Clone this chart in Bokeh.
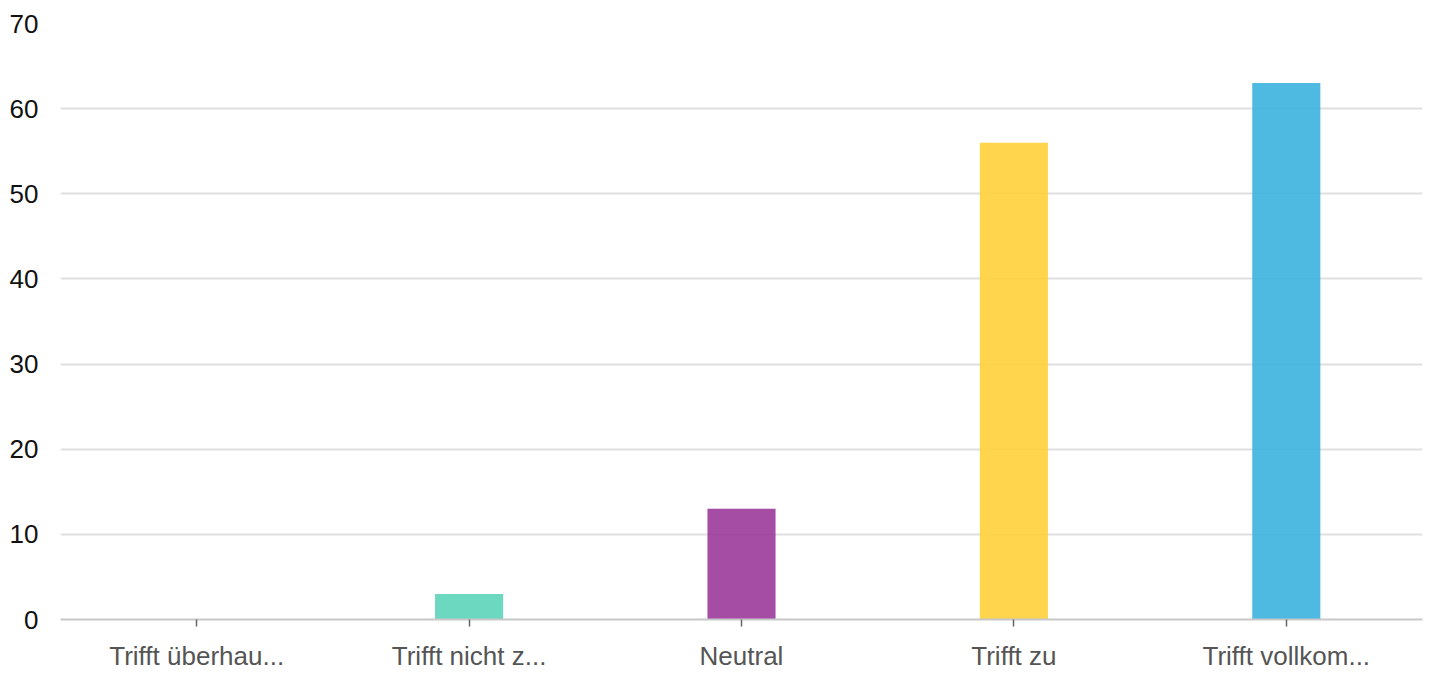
from bokeh.plotting import figure
from bokeh.models import ColumnDataSource, Range1d, FixedTicker
from bokeh.embed import file_html
from bokeh.resources import INLINE

# Survey answers and counts
categories = ["Trifft überhau...", "Trifft nicht z...", "Neutral", "Trifft zu", "Trifft vollkom..."]
counts = [0, 3, 13, 56, 63]
colors = ["#5CD4B8", "#9B389A", "#FFD03B", "#3BB1DE"]
bar_colors = ["#DDDDDD"] + colors
y_ticks = [0, 10, 20, 30, 40, 50, 60, 70]

source = ColumnDataSource(data=dict(cat=categories, count=counts, color=bar_colors))

p = figure(
    x_range=categories,
    y_range=Range1d(0, 70),
    width=1432,
    height=675,
    output_backend="svg",
    toolbar_location=None,
    min_border_left=60,
    min_border_right=10,
    min_border_top=23,
    min_border_bottom=56,
)

p.vbar(x="cat", top="count", width=0.25, source=source,
       fill_color="color", fill_alpha=0.9, line_color=None)

font = "Liberation Sans"

# y axis: labels only
p.yaxis.ticker = FixedTicker(ticks=y_ticks)
p.yaxis.axis_line_color = None
p.yaxis.major_tick_line_color = None
p.yaxis.minor_tick_line_color = None
p.yaxis.major_tick_out = 0
p.yaxis.major_tick_in = 0
p.yaxis.major_label_standoff = 22
p.yaxis.major_label_text_font = font
p.yaxis.major_label_text_font_size = "26px"
p.yaxis.major_label_text_color = "#111111"

# x axis: baseline with small ticks under each category
p.xaxis.axis_line_color = "#C8C8C8"
p.xaxis.axis_line_width = 2
p.xaxis.major_tick_line_color = "#666666"
p.xaxis.major_tick_line_width = 1.5
p.xaxis.major_tick_out = 7
p.xaxis.major_tick_in = 0
p.xaxis.major_label_standoff = 14
p.xaxis.major_label_text_font = font
p.xaxis.major_label_text_font_size = "26px"
p.xaxis.major_label_text_color = "#555555"

p.xgrid.grid_line_color = None
p.ygrid.grid_line_color = "#E0E0E0"
p.ygrid.grid_line_width = 2
p.outline_line_color = None
p.background_fill_color = "white"
p.border_fill_color = "white"

open("out.html", "w").write(file_html(p, INLINE))
